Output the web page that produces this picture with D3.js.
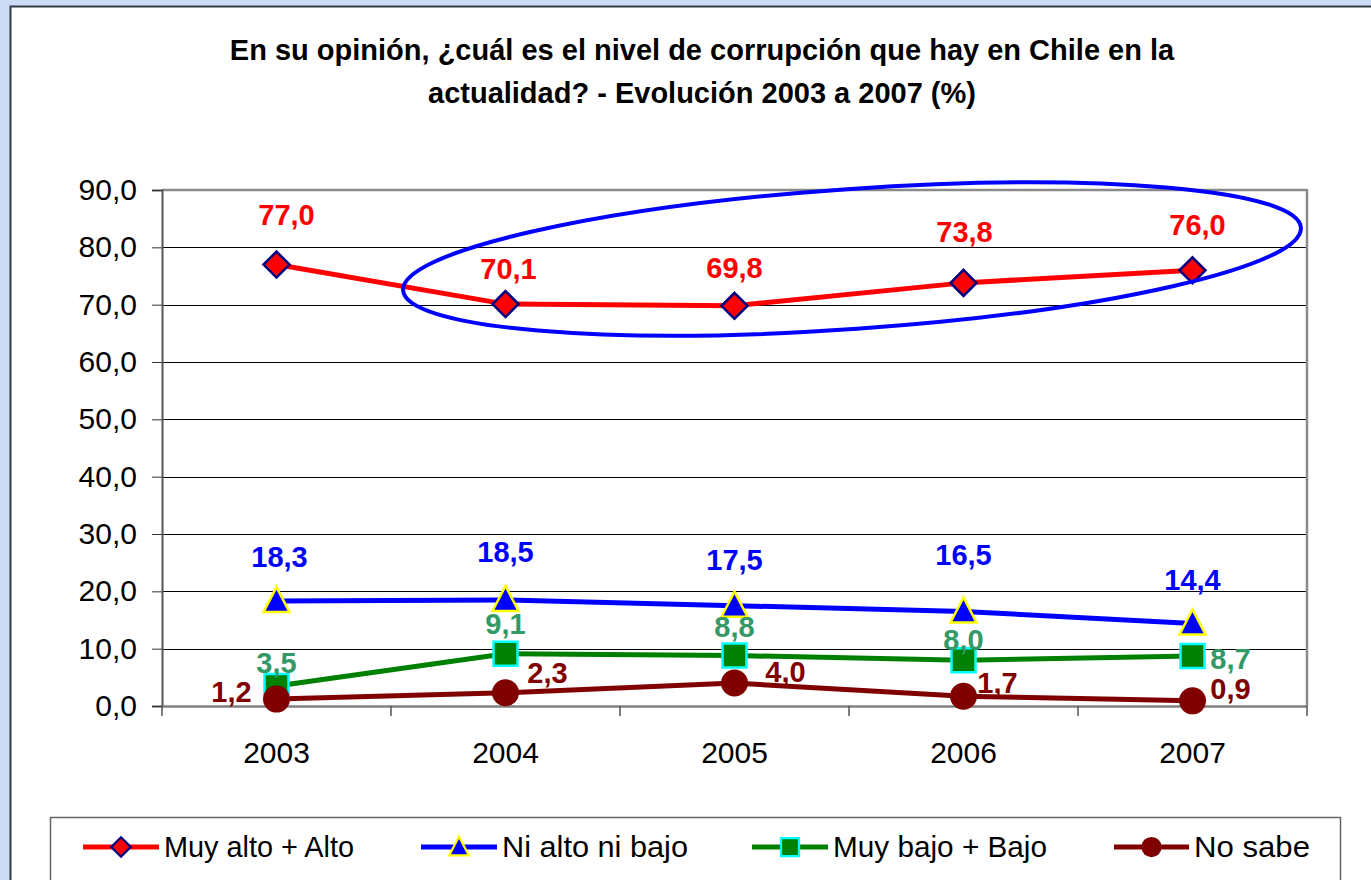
<!DOCTYPE html>
<html>
<head>
<meta charset="utf-8">
<script src="https://cdn.jsdelivr.net/npm/d3@7"></script>
<style>
  body { margin: 0; background: #cddcf4; }
  svg { display: block; font-family: "Liberation Sans", Arial, sans-serif; }
</style>
</head>
<body>
<div id="chart"></div>
<script>
// data
var years = ["2003", "2004", "2005", "2006", "2007"];
var muyAlto = [77.0, 70.1, 69.8, 73.8, 76.0];
var niAlto = [18.3, 18.5, 17.5, 16.5, 14.4];
var muyBajo = [3.5, 9.1, 8.8, 8.0, 8.7];
var noSabe = [1.2, 2.3, 4.0, 1.7, 0.9];
var yTicks = [0, 10, 20, 30, 40, 50, 60, 70, 80, 90];
var seriesNames = ["Muy alto + Alto", "Ni alto ni bajo", "Muy bajo + Bajo", "No sabe"];

var width = 1371, height = 880;
var m = {left: 162, right: 1307, top: 190, bottom: 706};
var fmt = function(d) { return d3.format(".1f")(d).replace(".", ","); };

var svg = d3.select("#chart").append("svg")
    .attr("width", width)
    .attr("height", height);

// white panel
svg.append("rect")
    .attr("x", 10.5).attr("y", 6.5)
    .attr("width", width).attr("height", height)
    .attr("fill", "#fff")
    .attr("stroke", "#333a48").attr("stroke-width", 2);

var title = svg.append("text")
    .attr("text-anchor", "middle")
    .attr("font-weight", "bold")
    .attr("font-size", 29)
    .attr("fill", "#000");
title.append("tspan").attr("x", 702).attr("y", 60)
    .text("En su opinión, ¿cuál es el nivel de corrupción que hay en Chile en la");
title.append("tspan").attr("x", 702).attr("y", 103)
    .text("actualidad? - Evolución 2003 a 2007 (%)");

var x = d3.scaleBand().domain(years).range([m.left, m.right]);
var y = d3.scaleLinear().domain([0, 90]).range([m.bottom, m.top]);
var cx = function(d, i) { return x(years[i]) + x.bandwidth() / 2; };

// gridlines
svg.append("g").selectAll("line")
    .data(yTicks.filter(function(t) { return t > 0 && t < 90; }))
    .enter().append("line")
    .attr("x1", m.left).attr("x2", m.right)
    .attr("y1", function(d) { return Math.round(y(d)) + 0.5; })
    .attr("y2", function(d) { return Math.round(y(d)) + 0.5; })
    .attr("stroke", "#000").attr("stroke-width", 1);

// plot border top and right
svg.append("path")
    .attr("d", "M" + m.left + "," + m.top + "H" + m.right + "V" + m.bottom)
    .attr("fill", "none")
    .attr("stroke", "#8a8a8a").attr("stroke-width", 2.5);

// y axis
var yAxis = d3.axisLeft(y).tickValues(yTicks).tickSize(10).tickFormat(fmt);
var gy = svg.append("g").attr("transform", "translate(" + m.left + ",0)").call(yAxis);
gy.select(".domain").attr("stroke", "#555").attr("stroke-width", 2);
gy.selectAll(".tick line").attr("stroke", "#333");
gy.selectAll(".tick text").attr("font-size", 30).attr("fill", "#000")
    .attr("font-family", "Liberation Sans, Arial, sans-serif").attr("x", -25);

// x axis
var xAxis = d3.axisBottom(x).tickSize(0);
var gx = svg.append("g").attr("transform", "translate(0," + m.bottom + ")").call(xAxis);
gx.select(".domain").attr("stroke", "#808080").attr("stroke-width", 2.5);
gx.selectAll(".tick text").attr("font-size", 30).attr("fill", "#000")
    .attr("font-family", "Liberation Sans, Arial, sans-serif").attr("y", 57).attr("dy", 0);
svg.append("g").selectAll("line")
    .data(years.concat(["end"]))
    .enter().append("line")
    .attr("x1", function(d, i) { return m.left + i * x.bandwidth(); })
    .attr("x2", function(d, i) { return m.left + i * x.bandwidth(); })
    .attr("y1", m.bottom).attr("y2", m.bottom + 10)
    .attr("stroke", "#555").attr("stroke-width", 1.5);

var series = [
    {name: seriesNames[0], values: muyAlto, line: "#ff0000", fill: "#ff0000", stroke: "#000080", marker: "diamond", label: "#ff0000",
     off: [[10, -50], [3, -35], [0, -38], [1, -51], [5, -45]]},
    {name: seriesNames[1], values: niAlto, line: "#0000ff", fill: "#0000ff", stroke: "#ffff00", marker: "triangle", label: "#0000ff",
     off: [[3, -44], [0, -48], [0, -46], [0, -56], [0, -43]]},
    {name: seriesNames[2], values: muyBajo, line: "#008000", fill: "#008000", stroke: "#00ffff", marker: "square", label: "#339966",
     off: [[0, -23], [0, -30], [0, -29], [0, -20], [38, 3]]},
    {name: seriesNames[3], values: noSabe, line: "#800000", fill: "#800000", stroke: "#800000", marker: "circle", label: "#800000",
     off: [[-45, -7], [42, -20], [51, -11], [34, -13], [38, -12]]}
];

function markerPath(type) {
    if (type == "diamond") return "M0,-13L13,0L0,13L-13,0Z";
    if (type == "triangle") return "M0,-14L13,11L-13,11Z";
    if (type == "square") return "M-12,-12H12V12H-12Z";
    return d3.symbol().type(d3.symbolCircle).size(Math.PI * 13.5 * 13.5)();
}

var line = d3.line()
    .x(function(d, i) { return cx(d, i); })
    .y(function(d) { return y(d); });

series.forEach(function(s) {
    svg.append("path")
        .attr("d", line(s.values))
        .attr("fill", "none")
        .attr("stroke", s.line)
        .attr("stroke-width", 5);
});

series.forEach(function(s) {
    svg.append("g").selectAll("path")
        .data(s.values)
        .enter().append("path")
        .attr("d", markerPath(s.marker))
        .attr("transform", function(d, i) { return "translate(" + cx(d, i) + "," + y(d) + ")"; })
        .attr("fill", s.fill)
        .attr("stroke", s.stroke)
        .attr("stroke-width", s.marker == "circle" ? 0 : 2.5);
});

// ellipse
svg.append("ellipse")
    .attr("cx", 0).attr("cy", 0)
    .attr("rx", 450).attr("ry", 70)
    .attr("transform", "translate(852,259) rotate(-4)")
    .attr("fill", "none")
    .attr("stroke", "#0000ff")
    .attr("stroke-width", 4);

series.forEach(function(s) {
    svg.append("g").selectAll("text")
        .data(s.values)
        .enter().append("text")
        .attr("x", function(d, i) { return cx(d, i) + s.off[i][0]; })
        .attr("y", function(d, i) { return y(d) + s.off[i][1]; })
        .attr("text-anchor", "middle")
        .attr("dominant-baseline", "central")
        .attr("font-size", 29)
        .attr("font-weight", "bold")
        .attr("fill", s.label)
        .text(fmt);
});

// legend
svg.append("rect")
    .attr("x", 50.5).attr("y", 817.5)
    .attr("width", 1290).attr("height", 100)
    .attr("fill", "#fff")
    .attr("stroke", "#666").attr("stroke-width", 1.5);

var legendX = [83, 421, 752, 1114];
var legendLen = [76, 76, 76, 75];
var legendText = [190, 186, 214, 116];
series.forEach(function(s, k) {
    var g = svg.append("g").attr("transform", "translate(" + legendX[k] + ",847)");
    g.append("line")
        .attr("x1", 0).attr("x2", legendLen[k])
        .attr("stroke", s.line).attr("stroke-width", 5);
    g.append("path")
        .attr("d", markerPath(s.marker))
        .attr("transform", "translate(" + (legendLen[k] / 2) + ",0) scale(0.75)")
        .attr("fill", s.fill)
        .attr("stroke", s.stroke)
        .attr("stroke-width", s.marker == "circle" ? 0 : 3);
    g.append("text")
        .attr("x", legendLen[k] + 5)
        .attr("y", -1)
        .attr("dominant-baseline", "central")
        .attr("font-size", 30)
        .attr("textLength", legendText[k])
        .attr("lengthAdjust", "spacingAndGlyphs")
        .attr("fill", "#000")
        .text(s.name);
});
</script>
</body>
</html>
